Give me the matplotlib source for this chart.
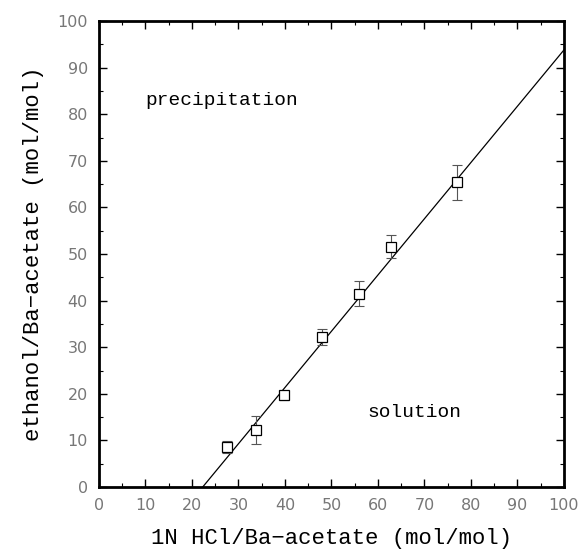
import matplotlib
matplotlib.use("Agg")
import matplotlib.pyplot as plt
import numpy as np

# data
hcl = [27.5, 33.8, 39.7, 47.9, 55.9, 62.7, 77.0]
ethanol = [8.6, 12.2, 19.7, 32.2, 41.5, 51.6, 65.4]
err = [1.2, 3.0, 1.0, 1.8, 2.7, 2.5, 3.7]

# fitted boundary line
fit_x = [22.3, 100]
fit_y = [0, 93.8]

fig = plt.figure(figsize=(5.81, 5.49), dpi=100)
ax = fig.add_axes([0.1704, 0.1129, 0.8003, 0.8488])

ax.plot(fit_x, fit_y, color='black', lw=0.9)
ax.errorbar(hcl, ethanol, yerr=err, fmt='none', ecolor='#555555',
            elinewidth=0.8, capsize=3.5, capthick=0.8)
ax.plot(hcl, ethanol, 's', mfc='white', mec='black', mew=0.9, ms=6.5)

ax.set_xlim(0, 100)
ax.set_ylim(0, 100)
ax.set_xticks(np.arange(0, 101, 10))
ax.set_yticks(np.arange(0, 101, 10))
ax.set_xticks(np.arange(5, 100, 10), minor=True)
ax.set_yticks(np.arange(5, 100, 10), minor=True)
ax.tick_params(which='both', direction='in', top=True, right=True,
               labelsize=11.5, labelcolor='#777777', pad=8)
ax.tick_params(which='major', length=6, width=1)
ax.tick_params(which='minor', length=3, width=0.8)
for s in ax.spines.values():
    s.set_linewidth(2)

mono = 'Liberation Mono'
ax.set_xlabel('1N HCl/Ba\u2212acetate (mol/mol)', family=mono, fontsize=16, labelpad=11)
ax.set_ylabel('ethanol/Ba\u2212acetate (mol/mol)', family=mono, fontsize=16, labelpad=10)

ax.text(9.9, 83, 'precipitation', family=mono, fontsize=14, va='center', ha='left')
ax.text(57.8, 15.9, 'solution', family=mono, fontsize=14, va='center', ha='left')

fig.savefig('out.png', dpi=100)
